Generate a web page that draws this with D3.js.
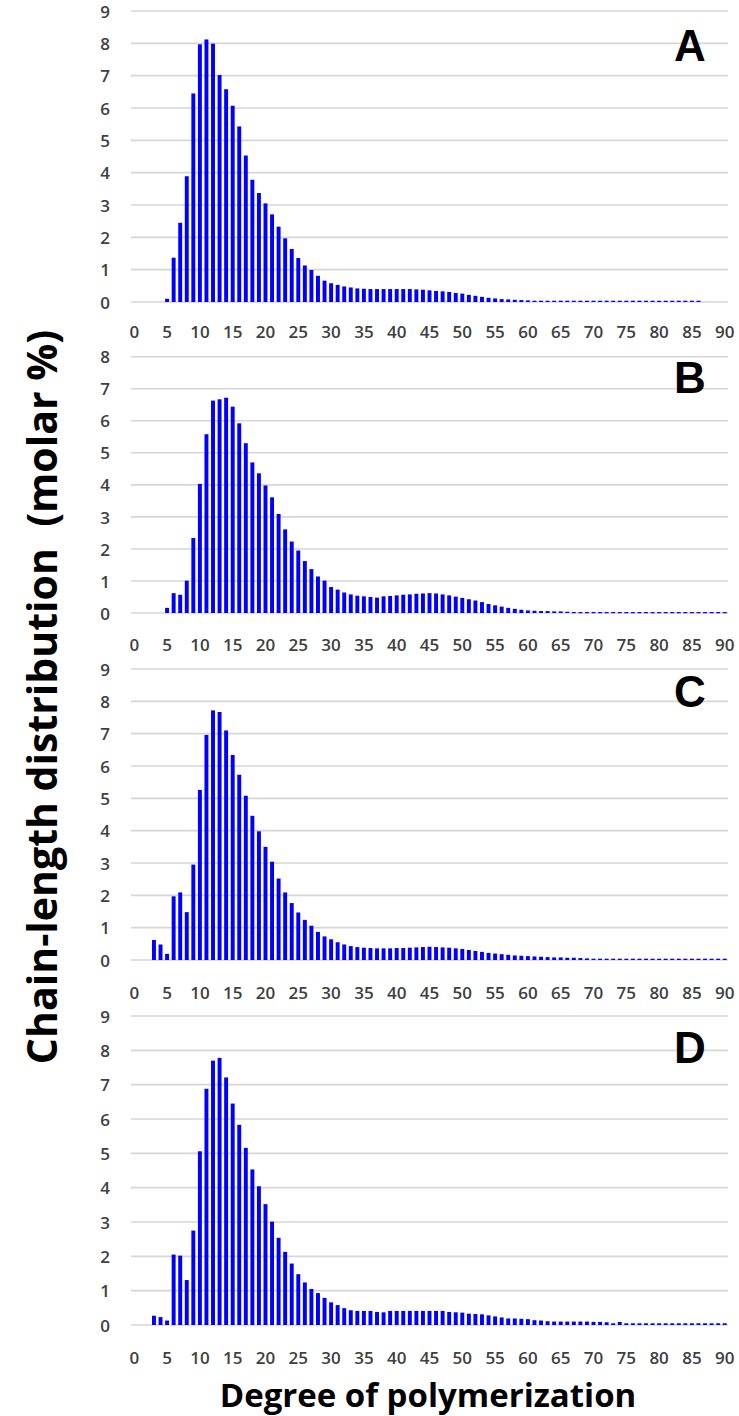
<!DOCTYPE html>
<html>
<head>
<meta charset="utf-8">
<script src="https://cdn.jsdelivr.net/npm/d3@7/dist/d3.min.js"></script>
<style>
  html, body { margin: 0; padding: 0; background: #fff; }
  svg { display: block; }
</style>
</head>
<body>
<script>
// ---------- DATA ----------
const categories = d3.range(0, 91);           // degree of polymerization 0..90
const xTickLabels = [0,5,10,15,20,25,30,35,40,45,50,55,60,65,70,75,80,85,90];
const panelLabels = ["A", "B", "C", "D"];
const yMax = [9, 8, 9, 9];

const seriesA = [0,0,0,0,0, 0.10,1.37,2.45,3.89,6.45, 7.97,8.12,7.99,7.02,6.58, 6.07,5.43,4.53,3.78,3.37,
  3.05,2.71,2.33,1.97,1.64, 1.36,1.13,0.99,0.81,0.66, 0.58,0.53,0.48,0.45,0.42, 0.41,0.40,0.40,0.40,0.40,
  0.40,0.40,0.40,0.39,0.38, 0.36,0.34,0.33,0.31,0.28, 0.26,0.22,0.19,0.16,0.13, 0.11,0.09,0.08,0.07,0.06,
  0.05,0.04,0.04,0.04,0.04, 0.04,0.04,0.04,0.04,0.04, 0.04,0.04,0.04,0.04,0.04, 0.04,0.04,0.04,0.04,0.04,
  0.04,0.04,0.04,0.04,0.04, 0.04,0.04,0,0,0, 0];
const seriesB = [0,0,0,0,0, 0.16,0.62,0.57,1.01,2.34, 4.03,5.58,6.63,6.67,6.72, 6.44,5.92,5.30,4.70,4.36,
  3.98,3.61,3.09,2.61,2.23, 1.95,1.62,1.37,1.14,1.01, 0.81,0.73,0.64,0.58,0.54, 0.52,0.50,0.48,0.52,0.53,
  0.55,0.57,0.58,0.60,0.61, 0.62,0.61,0.58,0.55,0.51, 0.47,0.43,0.39,0.34,0.28, 0.24,0.20,0.16,0.13,0.10,
  0.08,0.07,0.06,0.06,0.05, 0.05,0.04,0.03,0.03,0.03, 0.03,0.03,0.03,0.03,0.03, 0.03,0.03,0.03,0.03,0.03,
  0.03,0.03,0.03,0.03,0.03, 0.03,0.03,0.03,0.03,0.03, 0.03];
const seriesC = [0,0,0,0.62,0.48, 0.19,1.97,2.09,1.48,2.95, 5.26,6.96,7.72,7.67,7.10, 6.34,5.73,5.08,4.46,3.98,
  3.50,3.04,2.52,2.09,1.76, 1.47,1.24,1.06,0.87,0.73, 0.64,0.55,0.48,0.43,0.40, 0.38,0.37,0.36,0.36,0.36,
  0.37,0.37,0.38,0.39,0.40, 0.41,0.40,0.39,0.38,0.36, 0.34,0.31,0.28,0.25,0.22, 0.20,0.18,0.16,0.14,0.13,
  0.12,0.11,0.10,0.09,0.08, 0.08,0.07,0.07,0.06,0.05, 0.04,0.04,0.04,0.04,0.04, 0.04,0.04,0.04,0.04,0.04,
  0.04,0.04,0.04,0.04,0.04, 0.04,0.04,0.04,0.04,0.04, 0.04];
const seriesD = [0,0,0,0.27,0.23, 0.13,2.05,2.02,1.31,2.75, 5.06,6.88,7.70,7.78,7.21, 6.45,5.83,5.16,4.53,4.04,
  3.52,3.01,2.54,2.13,1.79, 1.48,1.24,1.05,0.93,0.79, 0.66,0.58,0.49,0.43,0.41, 0.41,0.41,0.38,0.37,0.41,
  0.41,0.41,0.41,0.41,0.41, 0.41,0.41,0.41,0.38,0.37, 0.36,0.33,0.32,0.31,0.28, 0.25,0.22,0.19,0.19,0.18,
  0.17,0.14,0.13,0.11,0.10, 0.10,0.10,0.10,0.10,0.10, 0.09,0.09,0.08,0.05,0.09, 0.05,0.05,0.05,0.05,0.05,
  0.05,0.05,0.05,0.05,0.05, 0.05,0.05,0.05,0.05,0.05, 0.05];
const allSeries = [seriesA, seriesB, seriesC, seriesD];

// ---------- LAYOUT ----------
const W = 739, H = 1416;
const layout = [
  { top: 11,   bottom: 302, labelY: 332, letterY: 45 },
  { top: 356.7, bottom: 613, labelY: 645, letterY: 377 },
  { top: 669,  bottom: 960, labelY: 993, letterY: 691 },
  { top: 1016, bottom: 1325, labelY: 1358, letterY: 1047 }
];
const xLeft = 131, xRight = 728;
const tickFont = "'Open Sans', 'DejaVu Sans', sans-serif";

const svg = d3.select("body").append("svg").attr("width", W).attr("height", H);

const x = d3.scaleBand().domain(categories).range([xLeft, xRight]).paddingInner(0.4).paddingOuter(0.2);

layout.forEach((L, i) => {
  const data = allSeries[i];
  const y = d3.scaleLinear().domain([0, yMax[i]]).range([L.bottom, L.top]);
  const g = svg.append("g");

  // gridlines
  g.selectAll("line.grid").data(d3.range(0, yMax[i] + 1)).join("line")
    .attr("class", "grid")
    .attr("x1", xLeft).attr("x2", xRight)
    .attr("y1", d => y(d)).attr("y2", d => y(d))
    .attr("stroke", "#d6d6d6").attr("stroke-width", 1.6);

  // y tick labels
  const yAxis = d3.axisLeft(y).ticks(yMax[i]).tickSize(0).tickPadding(0).tickFormat(d3.format("d"));
  const ya = g.append("g").attr("transform", `translate(110,0)`).call(yAxis);
  ya.select(".domain").remove();
  ya.selectAll("text").attr("font-family", tickFont).attr("font-weight", 600)
    .attr("font-size", 17).attr("fill", "#404040").attr("dy", "0.36em");

  // bars
  g.selectAll("rect.bar").data(categories.filter(c => data[c] > 0)).join("rect")
    .attr("class", "bar")
    .attr("x", c => x(c))
    .attr("width", x.bandwidth())
    .attr("y", c => y(data[c]))
    .attr("height", c => Math.max(1.2, y(0) - y(data[c])))
    .attr("fill", "#0000ff");

  // x tick labels
  const xAxis = d3.axisBottom(x).tickValues(xTickLabels).tickSize(0).tickPadding(0);
  const xa = g.append("g").attr("transform", `translate(0,${L.labelY})`).call(xAxis);
  xa.select(".domain").remove();
  xa.selectAll("text").attr("font-family", tickFont).attr("font-weight", 600)
    .attr("font-size", 17).attr("fill", "#404040").attr("dy", "0.36em").attr("y", 0);

  // panel letter
  svg.append("text").attr("x", 690).attr("y", L.letterY)
    .attr("text-anchor", "middle").attr("dominant-baseline", "central")
    .attr("font-family", "'Liberation Sans', Arial, sans-serif").attr("font-weight", "bold")
    .attr("font-size", 44).attr("fill", "#000").text(panelLabels[i]);
});

// axis titles
const yTitle = svg.append("text")
  .attr("transform", `translate(41,697) rotate(-90)`)
  .attr("text-anchor", "middle").attr("dominant-baseline", "central")
  .attr("font-family", "'Open Sans', sans-serif").attr("font-weight", "bold")
  .attr("font-size", 41).attr("fill", "#000")
  .attr("xml:space", "preserve")
  .text("Chain-length distribution  (molar %)");
yTitle.style("white-space", "pre");

svg.append("text")
  .attr("x", 428).attr("y", 1394)
  .attr("text-anchor", "middle").attr("dominant-baseline", "central")
  .attr("font-family", "'Open Sans', sans-serif").attr("font-weight", "bold")
  .attr("font-size", 33).attr("fill", "#000")
  .text("Degree of polymerization");
</script>
</body>
</html>
